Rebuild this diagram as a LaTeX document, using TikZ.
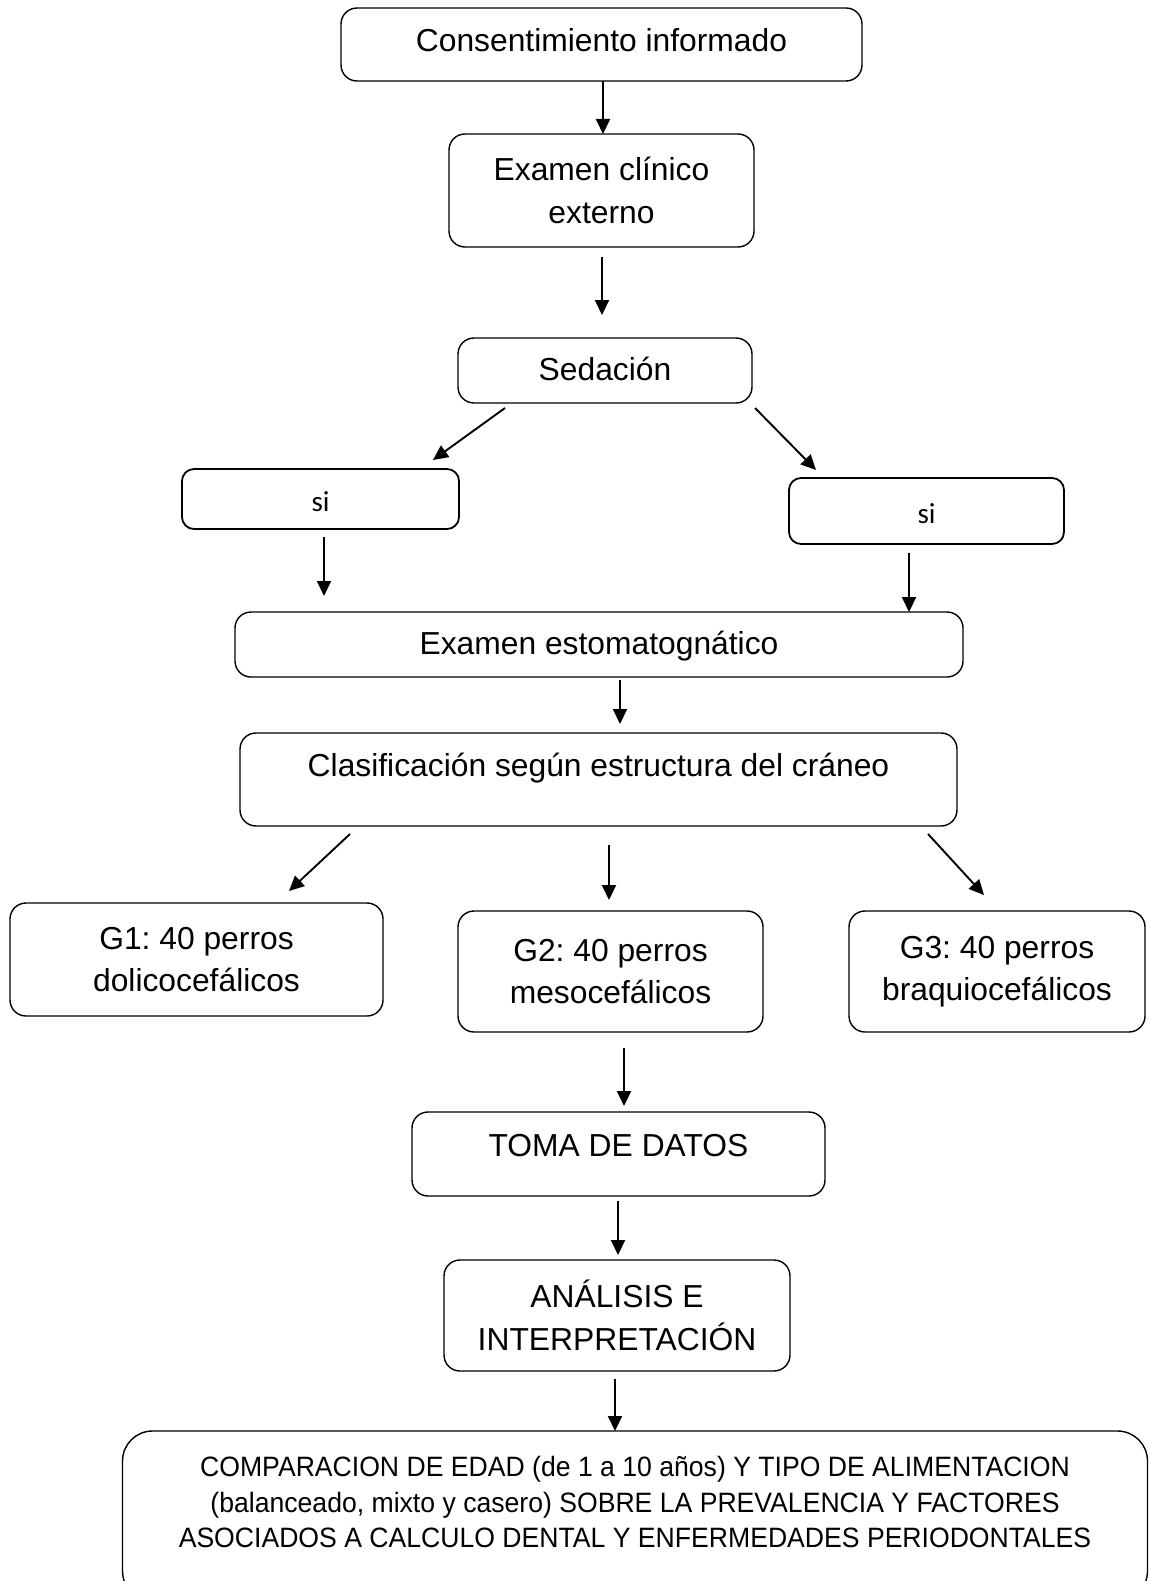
\documentclass[tikz,border=0pt]{standalone}
\usepackage{fontspec}
\setmainfont{Liberation Sans}
\newfontfamily\sifont{Carlito}
\newfontfamily\narrowfont[FakeStretch=0.95]{Liberation Sans}
\usetikzlibrary{arrows.meta}
\frenchspacing

\begin{document}
\begin{tikzpicture}[x=1pt, y=-1pt,
	caja/.style={draw, line width=1.4pt, rounded corners=16pt, inner sep=0pt, outer sep=0pt, align=center, font=\fontsize{31.8}{42.5}\selectfont},
	cajasi/.style={caja, line width=1.8pt, rounded corners=12pt, text height=24pt, text depth=0pt, font=\sifont\fontsize{29}{35}\selectfont},
	flecha/.style={line width=1.9pt, -{Triangle[length=15pt, width=14pt]}}]
	\useasboundingbox (0,0) rectangle (1149,1581);

	\node[caja, minimum width=521pt, minimum height=73pt, text height=23pt, text depth=8pt] (cons) at (601.5,44.5) {Consentimiento informado};
	\node[caja, minimum width=305pt, minimum height=113pt] (exam) at (601.5,190.5) {Examen clínico\\externo};
	\node[caja, minimum width=294pt, minimum height=65pt, text height=23pt, text depth=3pt] (sed) at (605,370.5) {Sedación};

	\node[cajasi, minimum width=277pt, minimum height=60pt] (sil) at (320.5,499) {si};
	\node[cajasi, minimum width=275pt, minimum height=66pt] (sir) at (926.5,511) {si};

	\node[caja, minimum width=728pt, minimum height=65pt, text height=23pt, text depth=3pt] (esto) at (599,644.5) {Examen estomatognático};
	\node[caja, minimum width=717pt, minimum height=93pt, text height=23pt, text depth=30pt] (clas) at (598.5,779.5) {Clasificación según estructura del cráneo};

	\node[caja, minimum width=373pt, minimum height=113pt] (g1) at (196.5,959.5) {G1: 40 perros\\dolicocefálicos};
	\node[caja, minimum width=305pt, minimum height=121pt] (g2) at (610.5,971.5) {G2: 40 perros\\mesocefálicos};
	\node[caja, minimum width=296pt, minimum height=121pt] (g3) at (997,971.5) {G3: 40 perros\\braquiocefálicos};

	\node[caja, minimum width=413pt, minimum height=84pt, text height=23pt, text depth=18pt] (toma) at (618.5,1154) {TOMA DE DATOS};
	\node[caja, minimum width=346pt, minimum height=111pt] (anal) at (617,1315.5) {ANÁLISIS E\\INTERPRETACIÓN};

	\node[caja, rounded corners=30pt, minimum width=1025pt, minimum height=170pt, text depth=28pt, font=\narrowfont\fontsize{28}{35.3}\selectfont] (comp) at (635,1516) {COMPARACION DE EDAD (de 1 a 10 años) Y TIPO DE ALIMENTACION\\(balanceado, mixto y casero) SOBRE LA PREVALENCIA Y FACTORES\\ASOCIADOS A CALCULO DENTAL Y ENFERMEDADES PERIODONTALES};

	\draw[flecha] ([shift={(1.5,0)}]cons.south) -- ([shift={(1.5,0)}]exam.north);
	\draw[flecha] ([shift={(0.5,10)}]exam.south) -- ([shift={(-3,-23)}]sed.north);
	\draw[flecha] ([shift={(47,5)}]sed.south west) -- ([shift={(-26,-9)}]sil.north east);
	\draw[flecha] ([shift={(3,5)}]sed.south east) -- ([shift={(27,-8)}]sir.north west);
	\draw[flecha] ([shift={(3.5,8)}]sil.south) -- ([shift={(89,-16)}]esto.north west);
	\draw[flecha] ([shift={(-17.5,9)}]sir.south) -- ([shift={(-54,0)}]esto.north east);
	\draw[flecha] ([shift={(21,3)}]esto.south) -- ([shift={(21.5,-9)}]clas.north);
	\draw[flecha] ([shift={(110,8)}]clas.south west) -- ([shift={(-94,-12)}]g1.north east);
	\draw[flecha] ([shift={(10.5,19)}]clas.south) -- ([shift={(-1.5,-11)}]g2.north);
	\draw[flecha] ([shift={(-29,8)}]clas.south east) -- ([shift={(-13,-16)}]g3.north);
	\draw[flecha] ([shift={(13.5,16)}]g2.south) -- ([shift={(5.5,-6)}]toma.north);
	\draw[flecha] ([shift={(-0.5,5)}]toma.south) -- ([shift={(1,-5)}]anal.north);
	\draw[flecha] ([shift={(-2,8)}]anal.south) -- ([shift={(-20,0)}]comp.north);
\end{tikzpicture}
\end{document}
